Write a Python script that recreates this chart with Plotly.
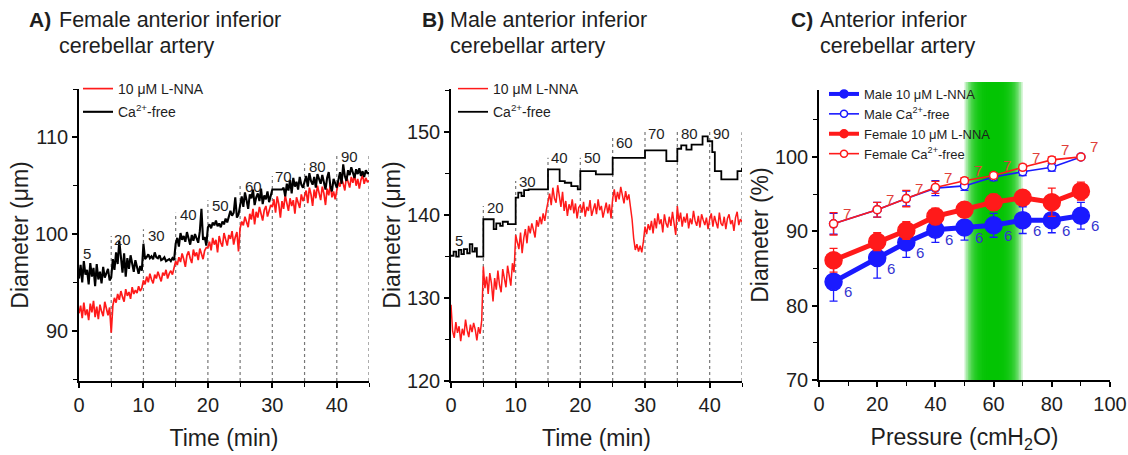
import plotly.graph_objects as go

FONT = "Liberation Sans, Arial, sans-serif"
W, H = 1128, 455

# ---------------- data: panels A and B (time course, 0.25-min samples) ----------------
time_min = [round(0.25 * i, 2) for i in range(181)]

female_lnna = [
    91.8, 92.6, 91.3, 92.9, 91.6, 92.2, 91.1, 92.8, 91.9, 93.1, 91.4, 92.5, 91.2, 92.7, 92.0, 91.5, 93.0, 92.2, 91.6, 92.4,
    89.8, 92.6, 93.4, 92.9, 93.8, 93.2, 94.1, 93.5, 93.0, 94.3, 93.6, 94.0, 93.3, 94.5, 93.8, 94.2, 93.9, 94.6, 94.1, 94.4,
    95.2, 94.8, 95.6, 95.0, 95.9, 95.3, 94.9, 95.8, 95.4, 96.1, 95.5, 95.1, 96.0, 95.7, 96.3, 95.4, 95.9, 96.2, 95.8, 96.4,
    97.2, 96.8, 97.6, 97.1, 98.0, 97.4, 96.6, 97.8, 98.2, 97.5, 97.0, 98.4, 97.7, 98.1, 97.3, 98.5, 97.9, 97.4, 98.3, 98.6,
    98.6, 99.2, 98.3, 99.6, 98.9, 99.4, 98.1, 99.8, 99.1, 98.7, 100.1, 99.3, 98.8, 99.9, 99.5, 100.3, 98.9, 99.7, 100.2, 98.2,
    100.6, 101.3, 100.9, 101.8, 101.2, 100.7, 102.1, 101.5, 102.6, 101.0, 102.3, 101.7, 102.8, 102.0, 101.4, 102.5, 102.9, 101.8, 102.4, 103.0,
    102.8, 103.6, 102.2, 103.9, 103.1, 101.7, 103.4, 102.6, 104.0, 103.2, 102.4, 103.7, 102.9, 103.5, 102.1, 103.8, 103.3, 102.7, 104.1, 103.4,
    103.9, 104.5, 103.2, 104.8, 104.1, 102.9, 104.6, 103.7, 105.0, 104.3, 103.5, 104.9, 104.2, 103.0, 104.7, 104.0, 105.1, 103.8, 104.4, 103.6,
    104.6, 105.4, 104.9, 105.8, 105.2, 104.5, 106.0, 105.5, 104.8, 105.9, 105.3, 106.2, 105.0, 105.7, 104.7, 105.6, 106.1, 105.2, 105.8, 105.4,
    105.5,
]
female_cafree = [
    95.4, 96.8, 95.0, 97.2, 95.8, 96.3, 94.8, 97.0, 95.6, 96.5, 94.6, 96.9, 95.3, 96.1, 94.9, 96.6, 95.5, 95.9, 96.4, 95.2,
    95.5, 97.4, 96.3, 98.1, 96.9, 99.3, 97.2, 96.0, 98.0, 95.6, 97.5, 96.4, 97.8, 96.8, 96.1, 97.3, 96.5, 95.9, 96.7, 96.2,
    99.0, 97.4, 97.6, 97.9, 97.5, 97.7, 97.4, 98.1, 97.6, 97.5, 97.8, 97.3, 97.4, 97.6, 97.2, 97.3, 97.4, 97.2, 97.5, 97.3,
    99.0, 99.6, 98.7, 100.1, 99.4, 99.8, 99.2, 100.2, 99.5, 98.9, 99.9, 99.3, 100.0, 99.6, 99.1, 100.3, 102.6, 99.4, 99.7, 98.8,
    100.7, 101.0, 100.6, 101.2, 100.9, 101.4, 100.8, 101.1, 100.7, 101.3, 101.0, 101.6, 101.2, 101.8, 102.4, 101.9, 102.2, 103.8, 101.7, 102.0,
    103.2, 103.9, 102.8, 104.3, 103.5, 102.6, 104.1, 103.7, 104.6, 103.0, 103.8, 104.2, 103.4, 104.7, 103.1, 104.0, 103.6, 104.4, 103.3, 103.9,
    104.6, 104.6, 104.6, 104.6, 104.6, 104.6, 104.6, 104.8, 103.9, 105.2, 104.5, 105.6, 104.2, 105.8, 104.9, 105.4, 104.6, 105.9, 105.1, 104.8,
    105.3, 106.0, 104.9, 106.3, 105.5, 105.1, 105.9, 104.8, 106.2, 105.6, 105.2, 106.1, 105.4, 104.6, 105.8, 106.4, 105.0, 104.4, 105.7, 105.2,
    104.8, 105.6, 106.4, 105.2, 107.2, 106.0, 105.5, 106.6, 106.1, 106.9, 106.3, 105.8, 106.7, 106.2, 106.8, 106.0, 106.5, 105.9, 106.6, 106.3,
    106.3,
]
male_lnna = [
    129.2, 126.0, 125.2, 127.1, 125.8, 126.6, 124.8, 126.3, 125.5, 127.4, 126.1, 125.3, 126.8, 125.9, 127.0, 126.2, 124.9, 126.5, 125.7, 127.3,
    133.8, 131.2, 132.6, 130.5, 133.0, 131.8, 129.6, 132.4, 131.0, 133.3, 131.6, 130.7, 133.5, 132.1, 131.3, 133.9, 132.8, 131.5, 134.2, 133.1,
    137.6, 136.8, 135.9, 137.9, 135.4, 137.2, 138.3, 136.6, 138.7, 137.8, 139.0, 138.2, 137.3, 139.4, 138.6, 139.8, 138.9, 140.2, 139.3, 140.6,
    141.5, 142.6, 141.2, 143.3, 142.0, 141.5, 143.6, 142.3, 141.0, 142.8, 140.5, 141.7, 139.9, 141.3, 140.6, 141.9, 140.2, 141.4, 139.6, 140.9,
    141.2, 140.3, 141.6, 139.8, 141.0, 140.5, 141.8, 139.9, 140.7, 141.4, 140.1, 141.9, 140.6, 141.1, 139.7, 140.8, 141.5, 140.2, 141.3, 139.6,
    142.0, 143.1, 141.6, 142.8, 141.9, 143.4, 142.2, 141.4, 142.9, 141.8, 142.5, 141.2, 139.5, 137.2, 135.8, 136.5, 135.6, 136.3, 135.5, 136.8,
    138.6, 137.7, 138.9, 138.2, 139.3, 137.8, 139.6, 138.4, 140.2, 138.9, 139.5, 137.9, 140.1, 139.0, 138.5, 139.8, 138.7, 140.4, 139.2, 137.6,
    141.1, 139.2, 140.3, 138.6, 139.8, 139.1, 140.2, 138.4, 139.6, 138.9, 140.5, 139.3, 138.7, 139.9, 138.5, 140.1, 139.4, 138.8, 139.7, 138.3,
    139.5, 140.2, 138.6, 139.9, 139.1, 138.4, 140.3, 139.0, 138.7, 139.8, 138.3, 139.6, 140.1, 138.9, 139.4, 138.1, 139.7, 140.4, 138.8, 139.5,
    139.2,
]
# Male Ca2+-free trace is a step recording: change times and levels
male_cafree_t = [0, 0.4, 0.8, 1.2, 1.6, 2.0, 2.5, 2.9, 3.3, 3.7, 4.0, 5.0, 6.6, 7.0, 7.6, 8.0, 8.8,
                 10.0, 10.4, 10.9, 11.3, 12.0, 15.0, 16.8, 17.6, 18.6, 19.6, 20.0, 22.4, 25.0, 30.0,
                 33.3, 35.0, 35.6, 36.4, 37.2, 38.0, 38.9, 39.7, 40.4, 40.8, 41.8, 44.3, 45.0]
male_cafree_v = [135.1, 135.6, 135.0, 135.8, 135.3, 135.9, 135.4, 136.5, 135.6, 136.0, 135.0, 139.5, 138.3, 139.0, 138.7, 139.2, 138.9,
                 142.1, 142.7, 142.3, 143.0, 143.1, 145.5, 144.1, 143.9, 143.5, 143.1, 145.3, 144.9, 146.9, 147.8,
                 146.5, 148.0, 148.4, 147.9, 148.5, 148.5, 149.5, 148.9, 147.6, 145.3, 144.3, 145.3, 145.7]

# pressure step annotations (cmH2O) on the time courses
step_labels = ["5", "20", "30", "40", "50", "60", "70", "80", "90"]
step_times = [5, 10, 15, 20, 25, 30, 35, 40, 45]
a_label_x = [1.2, 6.8, 12.0, 17.0, 21.9, 27.0, 31.8, 37.0, 42.0]
a_label_y = [98.0, 99.4, 99.8, 102.0, 102.9, 104.9, 105.9, 107.0, 108.0]
a_line_top = [99.8, 100.5, 102.2, 103.5, 105.0, 106.0, 107.3, 108.3, 108.2]
b_label_x = [1.2, 6.9, 11.8, 16.8, 21.9, 26.9, 31.8, 36.9, 41.8]
b_label_y = [136.9, 140.9, 144.0, 146.9, 146.9, 148.8, 149.8, 149.8, 149.8]
b_line_top = [141.1, 144.1, 146.9, 146.9, 149.3, 150.1, 150.1, 150.1, 150.0]

# ---------------- data: panel C (pressure-diameter) ----------------
pressure = [5, 20, 30, 40, 50, 60, 70, 80, 90]
male_lnna_pct = [83.2, 86.4, 88.5, 90.2, 90.5, 90.8, 91.5, 91.5, 92.1]
male_lnna_err = [2.6, 2.7, 2.0, 1.7, 1.7, 1.6, 1.8, 1.7, 1.8]
male_ca_pct = [91.0, 92.9, 94.4, 95.8, 96.1, 97.3, 98.0, 98.6, 100.0]
male_ca_err = [1.4, 1.0, 1.0, 1.0, 0.6, 0.5, 0.5, 0.5, 0.3]
female_lnna_pct = [86.1, 88.6, 90.1, 92.0, 92.9, 93.9, 94.5, 93.9, 95.4]
female_lnna_err = [1.6, 1.2, 1.2, 1.1, 1.0, 1.1, 1.0, 1.9, 1.2]
female_ca_pct = [91.0, 92.9, 94.4, 95.9, 96.8, 97.5, 98.6, 99.6, 100.0]
female_ca_err = [1.5, 1.0, 1.1, 0.8, 0.4, 0.4, 0.4, 0.4, 0.3]
n_male = ["6"] * 9
n_female = ["7"] * 9

RED = "#ff1a1a"
BLUE = "#1a1aff"
BLACK = "#000000"
TXT = "#1e1e1e"

A_YR = [84.8, 115]
B_YR = [120, 155.2]
C_YR = [70, 109]

def px2x(p):
    return p / W

def px2y(p):
    return 1 - p / H

fig = go.Figure()

# Panel A
fig.add_trace(go.Scatter(x=time_min, y=female_lnna, mode="lines", line=dict(color=RED, width=1.7),
                         name="10 μM L-NNA", xaxis="x", yaxis="y", legend="legend", legendgroup="a1"))
fig.add_trace(go.Scatter(x=time_min, y=female_cafree, mode="lines", line=dict(color=BLACK, width=2.1),
                         name="Ca<sup>2+</sup>-free", xaxis="x", yaxis="y", legend="legend", legendgroup="a2"))
# Panel B
fig.add_trace(go.Scatter(x=time_min, y=male_lnna, mode="lines", line=dict(color=RED, width=1.5),
                         name="10 μM L-NNA", xaxis="x2", yaxis="y2", legend="legend2", legendgroup="b1"))
fig.add_trace(go.Scatter(x=male_cafree_t, y=male_cafree_v, mode="lines", line=dict(color=BLACK, width=1.8, shape="hv"),
                         name="Ca<sup>2+</sup>-free", xaxis="x2", yaxis="y2", legend="legend2", legendgroup="b2"))

# Panel C
series_c = [
    ("Male 10 μM L-NNA", male_lnna_pct, male_lnna_err, BLUE, True),
    ("Male Ca<sup>2+</sup>-free", male_ca_pct, male_ca_err, BLUE, False),
    ("Female 10 μM L-NNA", female_lnna_pct, female_lnna_err, RED, True),
    ("Female Ca<sup>2+</sup>-free", female_ca_pct, female_ca_err, RED, False),
]
for name, yv, ev, col, filled in series_c:
    fig.add_trace(go.Scatter(
        x=pressure, y=yv, mode="lines+markers",
        line=dict(color=col, width=5 if filled else 1.6),
        marker=dict(size=17 if filled else 8, color=col if filled else "white",
                    symbol="circle", line=dict(color=col, width=1.5)),
        error_y=dict(type="data", array=ev, visible=True, color=col, thickness=1.3, width=4),
        xaxis="x3", yaxis="y3", showlegend=False))
for i, (name, yv, ev, col, filled) in enumerate(series_c):
    fig.add_trace(go.Scatter(
        x=[None], y=[None], mode="lines+markers", name=name,
        line=dict(color=col, width=4 if filled else 1.6),
        marker=dict(size=8 if filled else 7, color=col if filled else "white",
                    line=dict(color=col, width=1.5)),
        xaxis="x3", yaxis="y3", legend="legend3", legendgroup=f"c{i}"))

annotations = []
shapes = []

# pressure step labels and dotted guides
for lab, lx, ly in zip(step_labels, a_label_x, a_label_y):
    annotations.append(dict(x=lx, y=ly, xref="x", yref="y", text=lab, showarrow=False,
                            font=dict(size=15, color=TXT, family=FONT)))
for t, top in zip(step_times, a_line_top):
    shapes.append(dict(type="line", xref="x", yref="y", x0=t, x1=t, y0=A_YR[0], y1=top,
                       line=dict(color="#777777", width=1.2, dash="dot"), layer="below"))
for lab, lx, ly in zip(step_labels, b_label_x, b_label_y):
    annotations.append(dict(x=lx, y=ly, xref="x2", yref="y2", text=lab, showarrow=False,
                            font=dict(size=15, color=TXT, family=FONT)))
for t, top in zip(step_times, b_line_top):
    shapes.append(dict(type="line", xref="x2", yref="y2", x0=t, x1=t, y0=B_YR[0], y1=top,
                       line=dict(color="#777777", width=1.2, dash="dot"), layer="below"))

# n labels in panel C
for p, v, n in zip(pressure, male_lnna_pct, n_male):
    annotations.append(dict(x=p, y=v, xref="x3", yref="y3", text=n, showarrow=False, xshift=14, yshift=-10,
                            font=dict(size=15, color="#3535d0", family=FONT)))
for p, v, n in zip(pressure, female_ca_pct, n_female):
    annotations.append(dict(x=p, y=v, xref="x3", yref="y3", text=n, showarrow=False, xshift=13, yshift=10,
                            font=dict(size=15, color="#e0403a", family=FONT)))

# green band (50-70 cmH2O) drawn as nested translucent layers -> soft gradient
band_halfwidths = [10.0, 9.4, 8.8, 8.3, 7.8, 7.3, 6.8, 6.3, 5.8, 5.3, 4.8, 4.3, 3.8, 3.3, 2.6, 1.8]
for hw in band_halfwidths:
    shapes.append(dict(type="rect", xref="x3", yref="paper", x0=60 - hw, x1=60 + hw,
                       y0=px2y(380), y1=px2y(82), fillcolor="rgb(0,195,0)", opacity=0.22,
                       line=dict(width=0), layer="below"))

# panel titles
titles = [
    ("A)", 27, "Female anterior inferior", "cerebellar artery", 57),
    ("B)", 420, "Male anterior inferior", "cerebellar artery", 448),
    ("C)", 789, "Anterior inferior", "cerebellar artery", 818),
]
for lab, lx, l1, l2, tx in titles:
    annotations.append(dict(x=px2x(lx), y=px2y(20), xref="paper", yref="paper", text=f"<b>{lab}</b>",
                            showarrow=False, xanchor="left", yanchor="middle",
                            font=dict(size=21, color=TXT, family=FONT)))
    annotations.append(dict(x=px2x(tx), y=px2y(20), xref="paper", yref="paper", text=l1,
                            showarrow=False, xanchor="left", yanchor="middle",
                            font=dict(size=21.5, color=TXT, family=FONT)))
    annotations.append(dict(x=px2x(tx), y=px2y(46), xref="paper", yref="paper", text=l2,
                            showarrow=False, xanchor="left", yanchor="middle",
                            font=dict(size=21.5, color=TXT, family=FONT)))

tickfont = dict(size=20, color=TXT, family=FONT)
titlefont = dict(size=23, color=TXT, family=FONT)

def xax(domain, rng, dtick, minor, title, anchor):
    return dict(domain=domain, range=rng, dtick=dtick, tick0=0, showline=True, linecolor="black", linewidth=1.5,
                ticks="outside", ticklen=5, tickwidth=1.5, tickcolor="black", showgrid=False, zeroline=False,
                minor=dict(dtick=minor, ticks="outside", ticklen=4, tickwidth=1.3, tickcolor="black", showgrid=False),
                tickfont=tickfont, title=dict(text=title, font=titlefont, standoff=15), anchor=anchor,
                automargin=False, fixedrange=True)

def yax(domain, rng, dtick, minor, title, anchor, standoff):
    return dict(domain=domain, range=rng, dtick=dtick, tick0=0, showline=True, linecolor="black", linewidth=1.5,
                ticks="outside", ticklen=5, tickwidth=1.5, tickcolor="black", showgrid=False, zeroline=False,
                minor=dict(dtick=minor, ticks="outside", ticklen=4, tickwidth=1.3, tickcolor="black", showgrid=False),
                tickfont=tickfont, title=dict(text=title, font=titlefont, standoff=standoff), anchor=anchor,
                automargin=False, fixedrange=True)

ydom = [px2y(381), px2y(89)]
legfont = dict(size=14, color=TXT, family=FONT)
fig.update_layout(
    width=W, height=H, margin=dict(l=0, r=0, t=0, b=0, autoexpand=False),
    paper_bgcolor="white", plot_bgcolor="rgba(0,0,0,0)",
    font=dict(family=FONT, color=TXT),
    xaxis=xax([px2x(79), px2x(369)], [0, 45], 10, 5, "Time (min)", "y"),
    yaxis=yax(ydom, A_YR, 10, 5, "Diameter (μm)", "x", 0),
    xaxis2=xax([px2x(451), px2x(742)], [0, 45], 10, 5, "Time (min)", "y2"),
    yaxis2=yax(ydom, B_YR, 10, 5, "Diameter (μm)", "x2", 0),
    xaxis3=xax([px2x(819), px2x(1110)], [0, 100], 20, 10, "Pressure (cmH<sub>2</sub>O)", "y3"),
    yaxis3=yax([px2y(380), px2y(90)], C_YR, 10, 5, "Diameter (%)", "x3", 0),
    legend=dict(x=px2x(78), y=px2y(73), xanchor="left", yanchor="top", bgcolor="rgba(0,0,0,0)",
                font=legfont, traceorder="grouped", tracegroupgap=2, itemwidth=30),
    legend2=dict(x=px2x(453), y=px2y(73), xanchor="left", yanchor="top", bgcolor="rgba(0,0,0,0)",
                 font=legfont, traceorder="grouped", tracegroupgap=2, itemwidth=30),
    legend3=dict(x=px2x(824), y=px2y(79), xanchor="left", yanchor="top", bgcolor="rgba(0,0,0,0)",
                 font=dict(size=13, color=TXT, family=FONT), traceorder="grouped", tracegroupgap=0,
                 itemwidth=30),
    annotations=annotations, shapes=shapes,
)

fig.write_html("out.html", config={"displayModeBar": False},
               post_script="document.body.style.margin='0px';document.body.style.overflow='hidden';")
